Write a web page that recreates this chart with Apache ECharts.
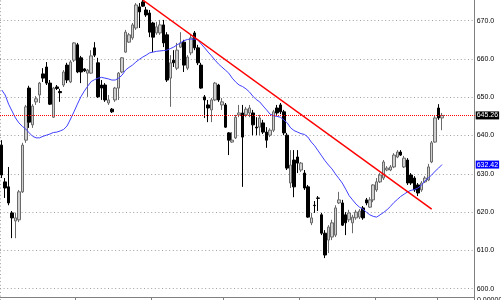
<!DOCTYPE html>
<html><head><meta charset="utf-8">
<script src="https://cdn.jsdelivr.net/npm/echarts@6/dist/echarts.min.js"></script>
<style>html,body{margin:0;padding:0;background:#fff}#c{width:501px;height:300px}</style>
</head><body><div id="c"></div>
<script>
const slotCount = 138;
const opens = [637.5,627.9,626.6,619.8,617.7,618.0,625.3,638.8,652.4,642.8,
648.8,650.6,656.1,657.9,653.7,644.8,652.7,651.5,653.2,658.4,
654.0,659.7,663.7,660.3,657.4,656.3,656.3,662.9,659.0,653.2,
653.2,648.5,646.9,649.3,652.4,656.6,661.8,664.4,665.5,668.1,
673.6,674.9,672.8,672.0,669.4,666.8,666.8,668.9,666.3,655.0,
659.7,657.6,663.1,664.4,657.6,661.6,666.8,662.9,658.4,650.1,
648.0,646.7,649.3,653.2,648.0,648.0,640.7,638.3,639.4,645.4,
645.9,645.4,645.9,645.9,642.2,642.2,643.3,640.9,640.1,641.4,
647.2,648.0,646.2,640.1,627.6,633.6,634.4,631.0,630.2,626.6,
617.2,621.8,623.7,619.3,614.5,612.7,613.5,614.0,622.4,622.4,
619.3,618.0,617.2,618.5,618.7,621.1,623.2,621.3,623.2,625.8,
627.9,628.9,631.0,631.0,631.8,634.4,635.7,631.8,633.6,629.7,
628.9,627.1,625.8,627.9,628.4,633.1,638.3,647.2,644.6];
const closes = [629.7,626.3,622.4,618.5,618.5,625.3,637.5,647.5,643.5,647.7,
649.6,653.7,655.0,653.7,648.2,652.4,652.3,651.2,656.6,654.5,
659.2,664.2,656.6,656.6,656.9,657.1,660.8,661.0,650.1,652.4,
649.3,649.3,646.2,652.4,656.3,660.3,667.0,666.3,668.9,674.1,
672.3,673.8,671.5,667.0,665.7,668.4,668.9,664.2,654.5,659.0,
659.0,662.3,664.2,658.4,660.5,665.5,662.9,659.0,652.4,649.3,
647.2,649.3,653.7,649.3,648.8,642.2,638.8,638.8,644.8,645.9,
639.6,646.9,647.2,642.8,642.0,644.6,640.9,638.8,641.4,646.2,
645.9,646.2,640.7,631.5,632.3,626.6,632.8,632.8,626.3,618.7,
618.5,621.7,623.6,614.5,608.8,616.1,617.2,621.1,623.2,616.6,
617.2,619.8,618.7,620.0,620.3,618.5,622.4,623.2,627.1,627.9,
629.7,633.1,631.5,631.8,634.9,635.7,634.9,634.1,627.6,627.6,
625.8,625.0,627.6,628.9,631.8,638.1,644.6,644.6,645.26];
const lows = [628.9,623.7,621.8,613.2,613.2,617.4,625.0,638.1,642.0,642.0,
648.0,648.5,654.0,653.2,648.0,644.6,651.9,648.8,652.7,653.7,
653.7,659.2,656.3,653.7,656.6,650.1,656.1,660.5,649.8,649.3,
648.8,648.0,645.9,648.8,649.3,656.3,661.6,664.2,665.0,667.6,
668.1,673.6,671.0,665.7,661.8,666.3,666.3,663.1,654.0,647.5,
657.9,657.1,662.9,656.6,657.1,661.0,662.3,658.4,652.2,644.6,
643.5,643.5,649.0,648.8,646.7,642.0,634.9,638.1,639.1,644.8,
626.6,644.8,644.8,640.1,640.1,640.1,640.4,636.8,639.6,640.9,
645.4,645.6,640.1,631.0,626.3,623.9,630.2,630.5,625.8,618.5,
616.6,619.8,620.3,614.0,608.0,609.3,612.7,613.5,622.1,616.4,
614.0,617.4,614.5,618.0,618.2,618.0,621.8,621.1,622.6,625.3,
627.6,628.4,630.7,630.7,631.5,634.1,634.7,631.5,627.1,627.1,
625.3,624.2,625.3,627.6,628.1,632.8,638.1,644.1,641.4];
const highs = [638.8,628.9,631.8,620.3,619.8,625.8,638.1,648.0,653.0,648.2,
650.3,654.0,657.6,659.2,654.5,652.7,653.2,652.2,657.1,659.0,
659.7,664.4,664.2,660.8,657.6,657.4,662.3,664.4,660.3,654.5,
653.7,650.6,647.2,652.7,656.6,660.5,667.6,666.8,669.4,674.6,
674.6,675.4,673.6,672.8,669.7,669.7,670.2,670.2,667.0,661.0,
662.3,664.2,667.0,665.0,661.0,666.3,667.3,663.7,659.0,650.6,
649.3,649.8,654.0,653.5,649.8,648.5,640.9,640.9,645.4,648.0,
648.0,647.5,648.0,646.7,644.8,645.4,644.1,642.2,641.9,646.7,
648.0,648.5,646.7,640.7,636.2,636.2,636.2,633.1,631.0,627.1,
619.8,622.9,624.2,619.8,615.3,616.6,618.0,621.8,625.3,623.2,
620.0,620.6,619.3,620.6,620.8,621.6,623.7,623.9,627.3,628.9,
630.2,633.6,632.0,632.3,635.4,636.2,636.2,634.7,634.1,630.2,
629.4,627.6,628.1,629.4,632.6,638.6,645.1,648.2,645.9];
const maValues = [651.9,650.6,648.2,646.4,644.6,643.3,642.4,641.7,640.7,639.8,
639.4,639.4,639.8,640.1,640.4,640.8,640.9,641.2,641.6,642.5,
644.3,646.2,648.2,650.1,651.6,652.9,654.1,654.6,655.0,655.2,
655.0,654.8,654.5,654.5,655.0,655.8,657.1,657.8,658.4,659.2,
659.9,660.5,661.0,661.6,661.8,662.0,662.1,662.2,662.3,662.7,
663.1,663.7,664.2,664.8,665.1,665.2,665.2,665.0,663.9,662.9,
661.8,660.8,659.7,658.7,657.9,657.1,656.3,655.0,654.0,653.2,
652.8,652.2,651.4,650.3,649.4,648.8,647.7,646.7,645.6,645.2,
645.0,644.8,644.1,643.3,642.0,641.3,640.9,640.5,640.3,639.6,
638.3,637.3,636.0,634.7,633.4,632.3,631.3,630.0,628.8,627.6,
626.0,624.3,623.2,622.1,621.3,620.8,620.0,619.3,618.9,618.7,
619.3,619.9,620.6,621.5,622.5,623.3,624.1,624.7,625.3,625.7,
625.9,626.3,627.0,628.1,628.9,629.7,630.7,631.5,632.422];
const trendIdx = [41, 125];
const trendVal = [675.4, 620.8];
const tickIdx = [22, 44, 65, 87, 109, 127];
const vGridIdx = 109;
const yMin = 590, yMax = 680, yStep = 10;
const cornerText = '0.00000';

const cats = Array.from({length: slotCount}, (_, i) => String(i + 1));
const candleData = opens.map((o, i) => [o, closes[i], lows[i], highs[i]]);
const trendData = cats.map(() => '-');
trendData[trendIdx[0]] = trendVal[0];
trendData[trendIdx[1]] = trendVal[1];
const lastClose = closes[closes.length - 1];
const maLast = maValues[maValues.length - 1];

const chart = echarts.init(document.getElementById('c'), null, {renderer: 'canvas'});
const dotted = {color: '#a0a0a0', type: [1, 2.6], width: 1};
chart.setOption({
  animation: false,
  backgroundColor: '#fff',
  grid: {left: 0, right: 26.3, top: -17.6, bottom: -27, containLabel: false, outerBoundsMode: 'none'},
  xAxis: {
    type: 'category', data: cats, boundaryGap: true, offset: -30,
    axisLine: {show: true, lineStyle: {color: '#808080', width: 1}},
    axisTick: {show: true, length: 3, interval: (i) => tickIdx.includes(i), lineStyle: {color: '#808080'}},
    axisLabel: {show: false},
    splitLine: {show: true, interval: (i) => i === vGridIdx, lineStyle: dotted}
  },
  yAxis: {
    type: 'value', position: 'right', min: yMin, max: yMax, interval: yStep,
    axisLine: {show: true, lineStyle: {color: '#808080', width: 1}},
    axisTick: {show: false},
    axisLabel: {margin: 2, fontSize: 7, color: '#000', fontFamily: 'Liberation Sans', formatter: v => v.toFixed(1)},
    splitLine: {show: true, lineStyle: dotted}
  },
  series: [
    {
      type: 'candlestick', data: candleData, barWidth: 3,
      itemStyle: {color: '#cfcfcf', color0: '#000', borderColor: '#6a6a6a', borderColor0: '#000', borderWidth: 1},
      markLine: {
        silent: true, symbol: 'none', animation: false,
        lineStyle: {color: '#ff0000', type: [1, 1], width: 1},
        label: {position: 'end', distance: 1, formatter: '{c}', backgroundColor: '#000', color: '#fff',
                fontSize: 7, fontFamily: 'Liberation Sans', padding: [1, 1, 0, 1], lineHeight: 7},
        data: [{yAxis: lastClose}]
      }
    },
    {
      type: 'line', data: maValues, symbol: 'none', z: 3,
      lineStyle: {color: '#4040ff', width: 1},
      markLine: {
        silent: true, symbol: 'none', animation: false,
        lineStyle: {color: 'rgba(0,0,0,0)', width: 0},
        label: {show: true, position: 'end', distance: 1, formatter: '{c}', backgroundColor: '#0000ff', color: '#fff',
                fontSize: 7, fontFamily: 'Liberation Sans', padding: [1, 1, 0, 1], lineHeight: 7},
        data: [{yAxis: maLast}]
      }
    },
    {
      type: 'line', data: trendData, connectNulls: true, symbol: 'none', z: 4,
      lineStyle: {color: '#ff0000', width: 1.5}
    }
  ],
  graphic: [{
    type: 'text', left: 477, top: 296.5,
    style: {text: cornerText, fontSize: 7, fontFamily: 'Liberation Sans', fill: '#000'}
  }]
});
</script>
</body></html>
